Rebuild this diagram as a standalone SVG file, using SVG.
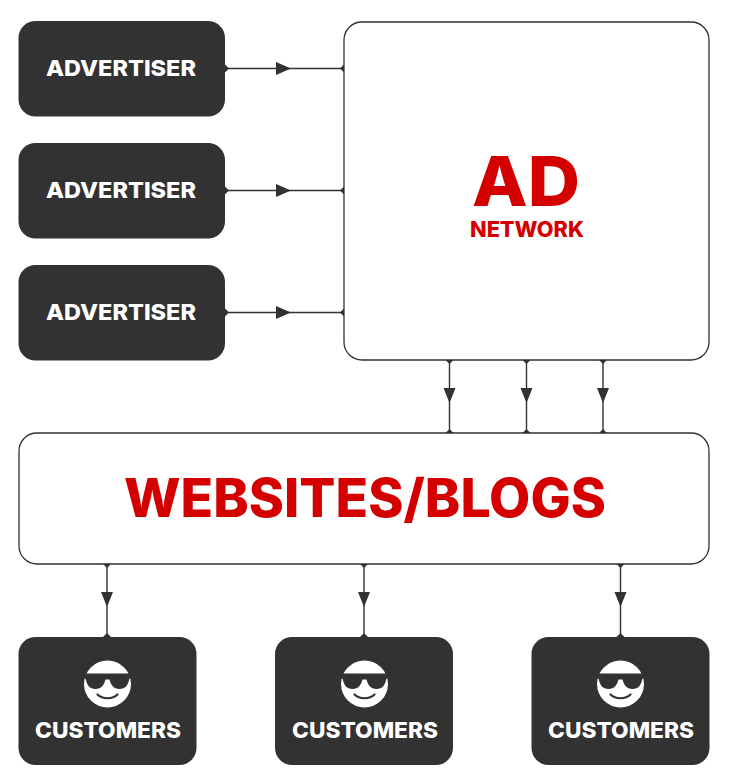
<svg xmlns="http://www.w3.org/2000/svg" width="735" height="776" viewBox="0 0 735 776">
<style>
.dark{fill:#323232}
.light{fill:#fff;stroke:#323232;stroke-width:1.3}
.w{fill:#fff;font-family:Inter,Roboto,"Liberation Sans",sans-serif;font-weight:800;text-anchor:middle}
.r{fill:#d40000;font-family:Inter,Roboto,"Liberation Sans",sans-serif;font-weight:800;text-anchor:middle}
.c{stroke:#323232;stroke-width:1.4;fill:none}
.h{fill:#323232}
</style>
<defs>
<g id="face">
<circle cx="0" cy="0" r="23.5" fill="#fff"/>
<path class="h" d="M-24-10.500H24V-7.500C23-6 22-5.500 21.500-4C20.500 1 18 5 12 5C6 5 3.500 1 2-4.500H-2C-3.500 1-6 5-12 5C-18 5-20.500 1-21.500-4C-22-5.500-23-6-24-7.500Z"/>
<path d="M-10 10.500C-5 15.500 5 15.500 10 10.500" fill="none" stroke="#323232" stroke-width="2.200" stroke-linecap="round"/>
</g>
</defs>
<rect width="735" height="776" fill="#fff"/>
<g id="connectors">
<path class="c" d="M225 68.500H344M225 190.500H344M225 312.500H344M449.500 360V433M526.500 360V433M603 360V433M107 564V637M364 564V637M620.500 564V637"/>
<path class="h" d="M276 62L291 68.500L276 75ZM276 184L291 190.500L276 197ZM276 306L291 312.500L276 319ZM443.500 388H455.500L449.500 403ZM520.500 388H532.500L526.500 403ZM597 388H609L603 403ZM101 592H113L107 607ZM358 592H370L364 607ZM614.500 592H626.500L620.500 607Z"/>
<path class="h" d="M225 64.500L229 68.500L225 72.500ZM225 186.500L229 190.500L225 194.500ZM225 308.500L229 312.500L225 316.500ZM344 64.500L340 68.500L344 72.500ZM344 186.500L340 190.500L344 194.500ZM344 308.500L340 312.500L344 316.500ZM445.500 360L449.500 364L453.500 360ZM522.500 360L526.500 364L530.500 360ZM599 360L603 364L607 360ZM445.500 433L449.500 429L453.500 433ZM522.500 433L526.500 429L530.500 433ZM599 433L603 429L607 433ZM103 564L107 568L111 564ZM360 564L364 568L368 564ZM616.500 564L620.500 568L624.500 564ZM103 637L107 633L111 637ZM360 637L364 633L368 637ZM616.500 637L620.500 633L624.500 637Z"/>
</g>
<g id="advertiser1"><rect class="dark" x="18.500" y="21" width="206.500" height="95.500" rx="17"/><text class="w" x="121" y="76" font-size="22" textLength="150" lengthAdjust="spacingAndGlyphs">ADVERTISER</text></g>
<g id="advertiser2"><rect class="dark" x="18.500" y="143" width="206.500" height="95.500" rx="17"/><text class="w" x="121" y="198" font-size="22" textLength="150" lengthAdjust="spacingAndGlyphs">ADVERTISER</text></g>
<g id="advertiser3"><rect class="dark" x="18.500" y="265" width="206.500" height="95.500" rx="17"/><text class="w" x="121" y="320" font-size="22" textLength="150" lengthAdjust="spacingAndGlyphs">ADVERTISER</text></g>
<g id="ad-network"><rect class="light" x="344" y="22" width="365" height="338" rx="18"/>
<text class="r" x="526" y="206" font-size="69" textLength="108" lengthAdjust="spacingAndGlyphs">AD</text><text class="r" x="527" y="237" font-size="21.500" textLength="114" lengthAdjust="spacingAndGlyphs">NETWORK</text></g>
<g id="websites-blogs"><rect class="light" x="19" y="433" width="690" height="131" rx="18"/>
<text class="r" x="365" y="516.500" font-size="53" textLength="482" lengthAdjust="spacingAndGlyphs">WEBSITES/BLOGS</text></g>
<g id="customers1"><rect class="dark" x="18.500" y="637" width="178" height="128" rx="17"/><use href="#face" x="107.500" y="684"/><text class="w" x="108" y="738" font-size="22" textLength="146" lengthAdjust="spacingAndGlyphs">CUSTOMERS</text></g>
<g id="customers2"><rect class="dark" x="275" y="637" width="178" height="128" rx="17"/><use href="#face" x="364.500" y="684"/><text class="w" x="365" y="738" font-size="22" textLength="146" lengthAdjust="spacingAndGlyphs">CUSTOMERS</text></g>
<g id="customers3"><rect class="dark" x="531.500" y="637" width="178" height="128" rx="17"/><use href="#face" x="620.500" y="684"/><text class="w" x="621" y="738" font-size="22" textLength="146" lengthAdjust="spacingAndGlyphs">CUSTOMERS</text></g>
</svg>
